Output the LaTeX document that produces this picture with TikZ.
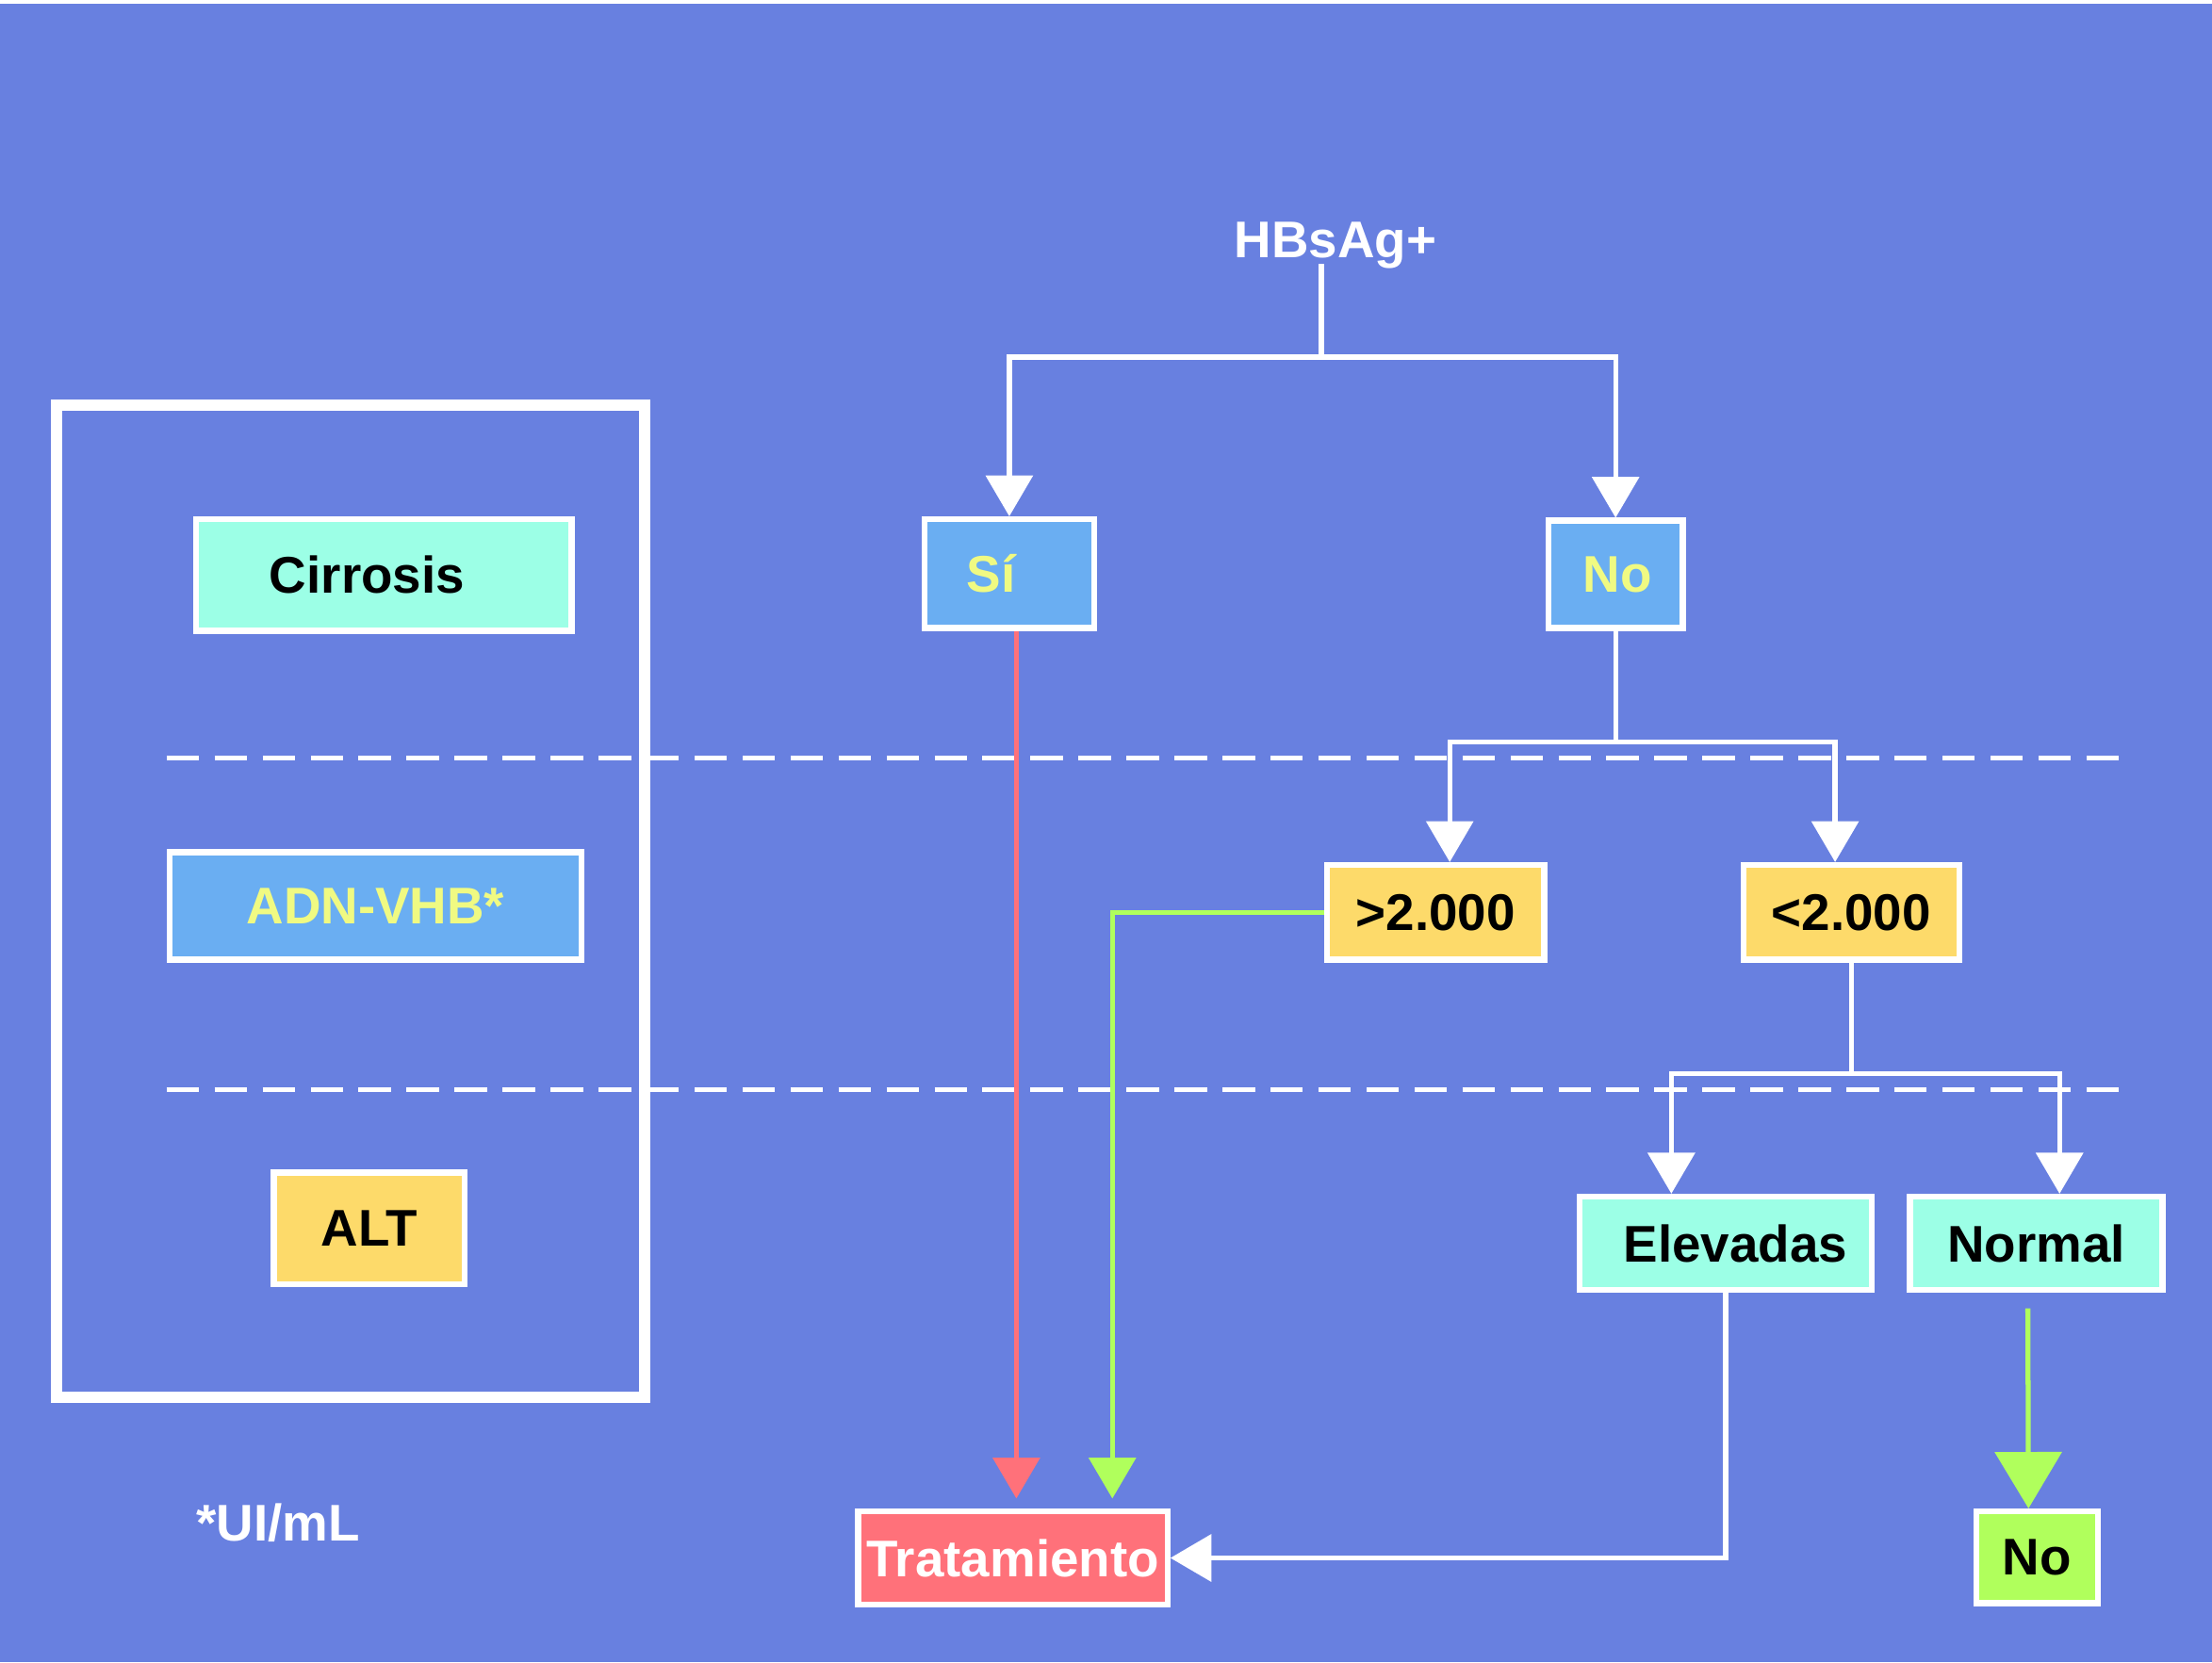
\documentclass[tikz,border=0pt]{standalone}
\usepackage{fontspec}
\setmainfont{Liberation Sans}
\usepackage{xcolor}
\usetikzlibrary{positioning,arrows.meta}

\definecolor{fondo}{RGB}{104,128,224}
\definecolor{azulc}{RGB}{106,174,242}
\definecolor{amarillo}{RGB}{240,250,130}
\definecolor{aqua}{RGB}{156,255,230}
\definecolor{amarilloc}{RGB}{253,218,106}
\definecolor{rojo}{RGB}{255,113,122}
\definecolor{verde}{RGB}{176,255,92}

\begin{document}
\begin{tikzpicture}[
    >={Triangle[width=0.33cm,length=0.29cm]},
    line width=1pt,
    font=\fontsize{10.4}{12}\selectfont\bfseries
]

\tikzstyle{caja}=[
    draw=white,
    line width=1.2pt,
    inner sep=0pt,
    align=center
]
\tikzstyle{linea}=[white]
\tikzstyle{flecha}=[white, ->]

\useasboundingbox (0,0) rectangle (15.67,11.78);
\fill[white] (0,0) rectangle (15.67,11.78);
\fill[fondo] (0,0) rectangle (15.67,11.75);

\draw[white, line width=0.08cm] (0.40,8.91) rectangle (4.57,1.88);

\draw[white, dash pattern=on 0.23cm off 0.11cm] (1.18,6.41) -- (15.07,6.41);
\draw[white, dash pattern=on 0.23cm off 0.11cm] (1.18,4.06) -- (15.07,4.06);


\node[caja, fill=aqua, minimum width=2.66cm, minimum height=0.79cm] (cirrosis) at (2.72,7.705) {Cirrosis\hspace*{0.24cm}};
\node[caja, fill=azulc, text=amarillo, minimum width=2.92cm, minimum height=0.76cm] (adn) at (2.66,5.36) {ADN-VHB*};
\node[caja, fill=amarilloc, minimum width=1.35cm, minimum height=0.79cm] (alt) at (2.615,3.075) {ALT};
\node[text=white] (ui) at (1.97,0.99) {*UI/mL};


\node[text=white, inner sep=0pt] (hbs) at (9.46,10.04) {HBsAg+};
\node[caja, fill=azulc, text=amarillo, minimum width=1.20cm, minimum height=0.77cm] (si) at (7.15,7.715) {Sí\hspace*{0.26cm}};
\node[caja, fill=azulc, text=amarillo, minimum width=0.95cm, minimum height=0.76cm] (no) at (11.445,7.71) {\hspace*{0.03cm}No};
\node[caja, fill=amarilloc, minimum width=1.54cm, minimum height=0.67cm] (mayor) at (10.17,5.315) {>2.000};
\node[caja, fill=amarilloc, minimum width=1.53cm, minimum height=0.67cm] (menor) at (13.115,5.315) {<2.000};
\node[caja, fill=aqua, minimum width=2.07cm, minimum height=0.66cm] (elev) at (12.225,2.97) {\hspace*{0.14cm}Elevadas};
\node[caja, fill=aqua, minimum width=1.79cm, minimum height=0.66cm] (normal) at (14.425,2.97) {Normal};
\node[caja, fill=rojo, text=white, minimum width=2.19cm, minimum height=0.66cm] (trat) at (7.175,0.74) {Tratamiento};
\node[caja, fill=verde, minimum width=0.86cm, minimum height=0.65cm] (nofin) at (14.43,0.745) {No};


\coordinate (r1) at (9.36,9.25);
\coordinate (h0) at ([yshift=0.05cm]hbs.south);
\draw[linea] (h0 -| r1) -- (r1);
\draw[flecha] (r1) -| (si.north);
\draw[flecha] (r1) -| (no.north);

\coordinate (r2) at (11.445,6.52);
\draw[linea] (no.south) -- (r2);
\draw[flecha] (r2) -| ([xshift=0.10cm]mayor.north);
\draw[flecha] (r2) -| ([xshift=-0.115cm]menor.north);

\coordinate (r3) at (13.115,4.17);
\draw[linea] (menor.south) -- (r3);
\draw[flecha] (r3) -| ([xshift=-0.385cm]elev.north);
\draw[flecha] (r3) -| ([xshift=0.165cm]normal.north);

\draw[flecha, rojo, shorten >=0.07cm] ([xshift=0.05cm]si.south) -- ([xshift=0.05cm]si.south |- trat.north);
\draw[flecha, verde, shorten >=0.07cm] (mayor.west) -| ([xshift=0.705cm]trat.north);
\draw[flecha] (elev.south) |- (trat.east);
\draw[verde, shorten <=0.11cm, -{Triangle[width=0.47cm,length=0.40cm]}] ([xshift=-0.06cm]normal.south) -- ([xshift=-0.06cm]nofin.north);

\end{tikzpicture}
\end{document}
